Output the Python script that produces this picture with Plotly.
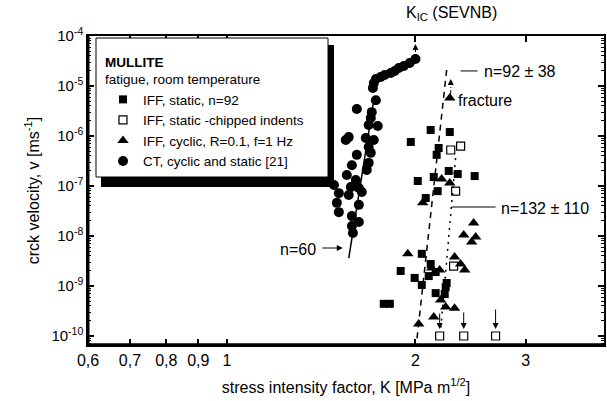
import numpy as np
import plotly.graph_objects as go

# ---------------- data ----------------
ct_K = [2.00, 1.958, 1.916, 1.881, 1.853, 1.826, 1.786, 1.760, 1.729, 1.716, 1.710, 1.729,
        1.612, 1.703, 1.697, 1.684, 1.741, 1.548, 1.565, 1.666, 1.716, 1.684, 1.612, 1.697,
        1.583, 1.684, 1.672, 1.554, 1.606, 1.482, 1.577, 1.624, 1.509, 1.565, 1.642, 1.498,
        1.624, 1.509, 1.583, 1.624, 1.583, 1.589]
ct_v = [3.47e-5, 2.88e-5, 2.51e-5, 2.29e-5, 2.0e-5, 1.82e-5, 1.66e-5, 1.51e-5, 1.38e-5, 1.15e-5,
        9.1e-6, 5.2e-6, 3.47e-6, 3.0e-6, 2.29e-6, 1.66e-6, 1.58e-6, 8.3e-7, 9.5e-7, 9.1e-7,
        8.3e-7, 6.0e-7, 4.2e-7, 4.6e-7, 2.6e-7, 2.9e-7, 2.1e-7, 1.66e-7, 1.32e-7, 1.05e-7,
        9.5e-8, 9.1e-8, 7.2e-8, 6.6e-8, 7.6e-8, 4.6e-8, 4.2e-8, 3.0e-8, 2.5e-8, 1.9e-8,
        1.58e-8, 1.15e-8]

sq_K = [2.115, 2.269, 1.966, 2.178, 2.162, 2.260, 2.336, 2.486, 2.139, 2.017, 2.170, 2.077,
        2.047, 1.894, 2.115, 2.100, 1.994, 2.047, 2.154, 2.243, 2.235, 2.154, 2.227, 1.780, 1.820]
sq_v = [1.32e-6, 1.20e-6, 7.6e-7, 5.75e-7, 4.2e-7, 2.0e-7, 1.74e-7, 1.58e-7, 1.51e-7, 1.26e-7,
        7.9e-8, 5.75e-8, 4.4e-9, 2.0e-9, 2.75e-9, 1.58e-9, 1.45e-9, 1.05e-9, 1.9e-9, 1.15e-9,
        9.5e-10, 7.2e-10, 6.9e-10, 4.4e-10, 4.4e-10]

osq_K = [2.277, 2.361, 2.318, 2.301, 2.186, 2.388, 2.685]
osq_v = [5.25e-7, 6.3e-7, 7.9e-8, 2.5e-9, 1e-10, 1e-10, 1e-10]

tri_K = [2.269, 2.202, 2.269, 2.054, 2.477, 2.388, 2.496, 2.459, 1.944, 2.309, 2.361, 2.397,
         2.123, 2.186, 2.194, 2.235, 2.309, 2.139, 2.024]
tri_v = [5.75e-6, 1.38e-7, 1.15e-7, 4.6e-8, 1.82e-8, 1.05e-8, 9.5e-9, 7.6e-9, 4.4e-9, 3.8e-9,
         2.75e-9, 2.1e-9, 2.3e-9, 2.1e-9, 5.25e-10, 3.8e-10, 3.6e-10, 2.4e-10, 1.74e-10]

kic_K = [2.0]
kic_v = [1e-4]

fit60_K = [1.565, 1.716]
fit60_v = [3.6e-9, 5.2e-6]
fit92_K = [2.243, 2.010]
fit92_v = [2.09e-5, 8.3e-11]
fit132_K = [2.318, 2.194]
fit132_v = [3.6e-7, 1.32e-10]

x_tickvals = [0.6, 0.7, 0.8, 0.9, 1, 2, 3, 4]
x_ticktext = ["0,6", "0,7", "0,8", "0,9", "1", "2", "3", "4"]
y_tickvals = [1e-4, 1e-5, 1e-6, 1e-7, 1e-8, 1e-9, 1e-10]
y_ticktext = ["10<sup>-4</sup>", "10<sup>-5</sup>", "10<sup>-6</sup>", "10<sup>-7</sup>",
              "10<sup>-8</sup>", "10<sup>-9</sup>", "10<sup>-10</sup>"]
y_minor = [k * 10.0 ** e for e in range(-11, -3) for k in range(2, 10)]

FONT = "Liberation Sans, Arial, sans-serif"
L = np.log10

fig = go.Figure()
fig.add_trace(go.Scatter(x=sq_K, y=sq_v, mode="markers", name="IFF, static, n=92",
                         marker=dict(symbol="square", size=8, color="black")))
fig.add_trace(go.Scatter(x=osq_K, y=osq_v, mode="markers", name="IFF, static -chipped indents",
                         marker=dict(symbol="square-open", size=8, color="black",
                                     line=dict(width=1.2, color="black"))))
fig.add_trace(go.Scatter(x=tri_K, y=tri_v, mode="markers", name="IFF, cyclic, R=0.1, f=1 Hz",
                         marker=dict(symbol="triangle-up", size=10, color="black")))
fig.add_trace(go.Scatter(x=ct_K, y=ct_v, mode="markers", name="CT, cyclic and static [21]",
                         marker=dict(symbol="circle", size=10, color="black")))
fig.add_trace(go.Scatter(x=kic_K, y=kic_v, mode="markers", showlegend=False, cliponaxis=False,
                         marker=dict(symbol="circle", size=6, color="black")))

fig.add_trace(go.Scatter(x=fit60_K, y=fit60_v, mode="lines", showlegend=False,
                         line=dict(color="black", width=1.5)))
fig.add_trace(go.Scatter(x=fit92_K, y=fit92_v, mode="lines", showlegend=False,
                         line=dict(color="black", width=1.5, dash="6px,5px")))
fig.add_trace(go.Scatter(x=fit132_K, y=fit132_v, mode="lines", showlegend=False,
                         line=dict(color="black", width=1.5, dash="2px,5px")))
# label leader lines
fig.add_trace(go.Scatter(x=[2.361, 2.513], y=[2.0e-5, 2.0e-5], mode="lines", showlegend=False,
                         line=dict(color="black", width=1)))
fig.add_trace(go.Scatter(x=[2.285, 2.685], y=[3.8e-8, 3.8e-8], mode="lines", showlegend=False,
                         line=dict(color="black", width=1)))
# dashed arrow stems
fig.add_trace(go.Scatter(x=[2.277, 2.277], y=[6.9e-6, 1.15e-5], mode="lines", showlegend=False,
                         line=dict(color="black", width=1, dash="4px,2px,1px,2px")))
fig.add_trace(go.Scatter(x=[2.0, 2.0], y=[3.8e-5, 6.0e-5], mode="lines", showlegend=False,
                         line=dict(color="black", width=1, dash="3px,2px")))

def arrow(xk, yv, axk, ayv, w=1.0):
    return dict(x=L(xk), y=L(yv), ax=L(axk), ay=L(ayv), xref="x", yref="y",
                axref="x", ayref="y", showarrow=True, arrowhead=2, arrowsize=1.2,
                arrowwidth=w, arrowcolor="black", text="")

def label(xk, yv, text, anchor="left", size=16):
    return dict(x=L(xk), y=L(yv), xref="x", yref="y", text=text, showarrow=False,
                xanchor=anchor, yanchor="middle", font=dict(size=size, color="black"))

PL, PR, PT, PB = 88, 3, 36, 56
W, H = 607, 401
pw, ph = W - PL - PR, H - PT - PB
def px(x):
    return (x - PL) / pw
def py(y):
    return (H - PB - y) / ph

annotations = [
    arrow(2.0, 10 ** -4.16, 2.0, 10 ** -4.3),
    arrow(2.277, 10 ** -4.86, 2.277, 10 ** -4.98),
    arrow(2.186, 10 ** -9.86, 2.186, 10 ** -9.52),
    arrow(2.388, 10 ** -9.86, 2.388, 10 ** -9.50),
    arrow(2.685, 10 ** -9.86, 2.685, 10 ** -9.44),
    arrow(1.531, 10 ** -8.24, 1.412, 10 ** -8.24),
    label(10 ** 0.1451, 10 ** -8.26, "n=60", anchor="right"),
    label(10 ** 0.4067, 10 ** -4.70, "n=92 ± 38"),
    label(10 ** 0.3652, 10 ** -5.28, "fracture"),
    label(10 ** 0.4338, 10 ** -7.44, "n=132 ± 110"),
    dict(x=0.2823, y=py(14), xref="x", yref="paper", text="K<sub>IC</sub> (SEVNB)",
         showarrow=False, xanchor="left", yanchor="middle",
         font=dict(size=16, color="black")),
]

shapes = [
    # legend shadow and box
    dict(type="rect", xref="paper", yref="paper", x0=px(101), x1=px(334), y0=py(187), y1=py(45),
         fillcolor="black", line=dict(width=0), layer="above"),
    dict(type="rect", xref="paper", yref="paper", x0=px(96), x1=px(328), y0=py(177), y1=py(38),
         fillcolor="white", line=dict(width=1, color="black"), layer="above"),
    # heavy bottom / left axis lines
    dict(type="line", xref="paper", yref="paper", x0=0, x1=1, y0=0, y1=0,
         line=dict(width=3.5, color="black"), layer="above"),
    dict(type="line", xref="paper", yref="paper", x0=0, x1=0, y0=0, y1=1,
         line=dict(width=3, color="black"), layer="above"),
]

fig.update_layout(
    width=W, height=H,
    margin=dict(l=PL, r=PR, t=PT, b=PB, autoexpand=False),
    paper_bgcolor="white", plot_bgcolor="white",
    font=dict(family=FONT, color="black", size=15),
    showlegend=True,
    legend=dict(x=px(103), y=py(49), xanchor="left", yanchor="top",
                bgcolor="rgba(0,0,0,0)", borderwidth=0,
                font=dict(size=13.5, family=FONT),
                title=dict(text="<b>MULLITE</b><br>fatigue, room temperature",
                           font=dict(size=13.5, family=FONT)),
                tracegroupgap=0),
    annotations=annotations,
    shapes=shapes,
)
fig.update_xaxes(type="log", range=[L(0.6), L(4)], tickmode="array",
                 tickvals=x_tickvals, ticktext=x_ticktext, ticks="inside", ticklen=6,
                 tickwidth=2, tickcolor="black", showline=True, linewidth=1.5, linecolor="black",
                 mirror="ticks", showgrid=False, zeroline=False, tickfont=dict(size=16),
                 title=dict(text="stress intensity factor, K [MPa m<sup>1/2</sup>]",
                            font=dict(size=16), standoff=14))
fig.update_yaxes(type="log", range=[-10.18, -4.0], tickmode="array",
                 tickvals=y_tickvals, ticktext=y_ticktext, ticks="inside", ticklen=6,
                 tickwidth=2, tickcolor="black", showline=True, linewidth=1.5, linecolor="black",
                 mirror="ticks", showgrid=False, zeroline=False, tickfont=dict(size=15),
                 minor=dict(tickmode="array", tickvals=y_minor, ticks="inside", ticklen=3,
                            tickwidth=1, tickcolor="black", showgrid=False),
                 title=dict(text="crck velocity, v [ms<sup>-1</sup>]", font=dict(size=16),
                            standoff=8))

fig.write_html("out.html", config={"displayModeBar": False},
               post_script="document.body.style.margin='0';document.body.style.overflow='hidden';")
